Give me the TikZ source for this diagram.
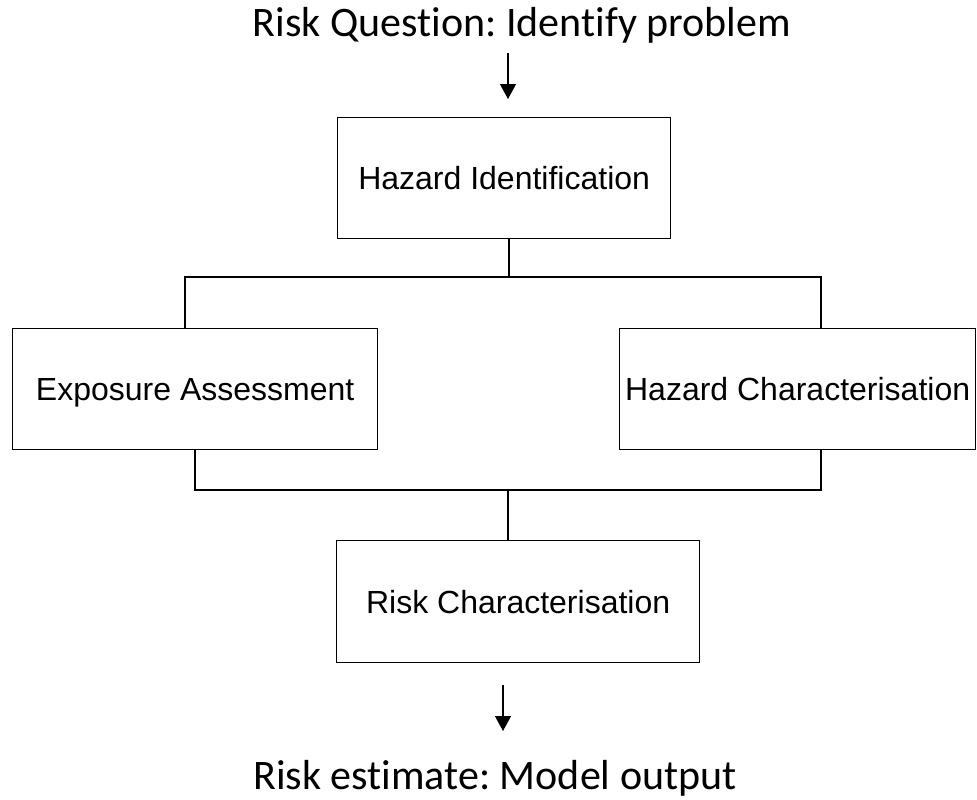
\documentclass[tikz,border=0pt]{standalone}
\usepackage{fontspec}
\setmainfont{Liberation Sans}
\newfontfamily\captionfont[Ligatures=NoCommon]{Carlito}
\frenchspacing
\usetikzlibrary{arrows.meta}
\tikzset{
  box/.style={draw, line width=1.3pt, inner sep=0pt, anchor=north west,
    font=\fontsize{32}{36}\selectfont, align=center,
    text height=23pt, text depth=0pt},
  caption/.style={font=\captionfont\fontsize{42}{48}\selectfont, anchor=base},
  link/.style={line width=1.3pt},
  flow/.style={line width=1.3pt, -{Triangle[width=16pt,length=15pt]}}
}
\begin{document}
\begin{tikzpicture}[x=1pt,y=-1pt]
\useasboundingbox (0,0) rectangle (977,800);

% captions
\node[caption] (question) at (522,37) {Risk Question: Identify problem};
\node[caption] (estimate) at (495,789) {Risk estimate: Model output};

% boxes
\node[box, minimum width=333pt, minimum height=121pt] (hazid) at (337,117) {Hazard Identification};
\node[box, minimum width=365pt, minimum height=121pt] (expo) at (12,328) {Exposure Assessment};
\node[box, minimum width=356pt, minimum height=121pt] (hazchar) at (619,328) {Hazard Characterisation};
\node[box, minimum width=363pt, minimum height=122pt] (riskchar) at (336,540) {Risk Characterisation};

% junction points of the tree lines
\coordinate (split) at (509,277);
\coordinate (splitL) at (185,277);
\coordinate (splitR) at (821,277);
\coordinate (mergeL) at (195,490);
\coordinate (mergeR) at (821,490);
\coordinate (merge) at (508,490);

% arrow ends
\coordinate (inTop) at (508,53);
\coordinate (inTip) at (508,99);
\coordinate (outTop) at (503,685);
\coordinate (outTip) at (503,731);

\draw[flow] (inTop) -- (inTip);
\draw[link] (hazid.south -| split) -- (split);
\draw[link] (expo.north -| splitL) -- (splitL) -- (splitR) -- (hazchar.north -| splitR);
\draw[link] (expo.south -| mergeL) -- (mergeL) -- (mergeR) -- (hazchar.south -| mergeR);
\draw[link] (merge) -- (riskchar.north -| merge);
\draw[flow] (outTop) -- (outTip);
\end{tikzpicture}
\end{document}
